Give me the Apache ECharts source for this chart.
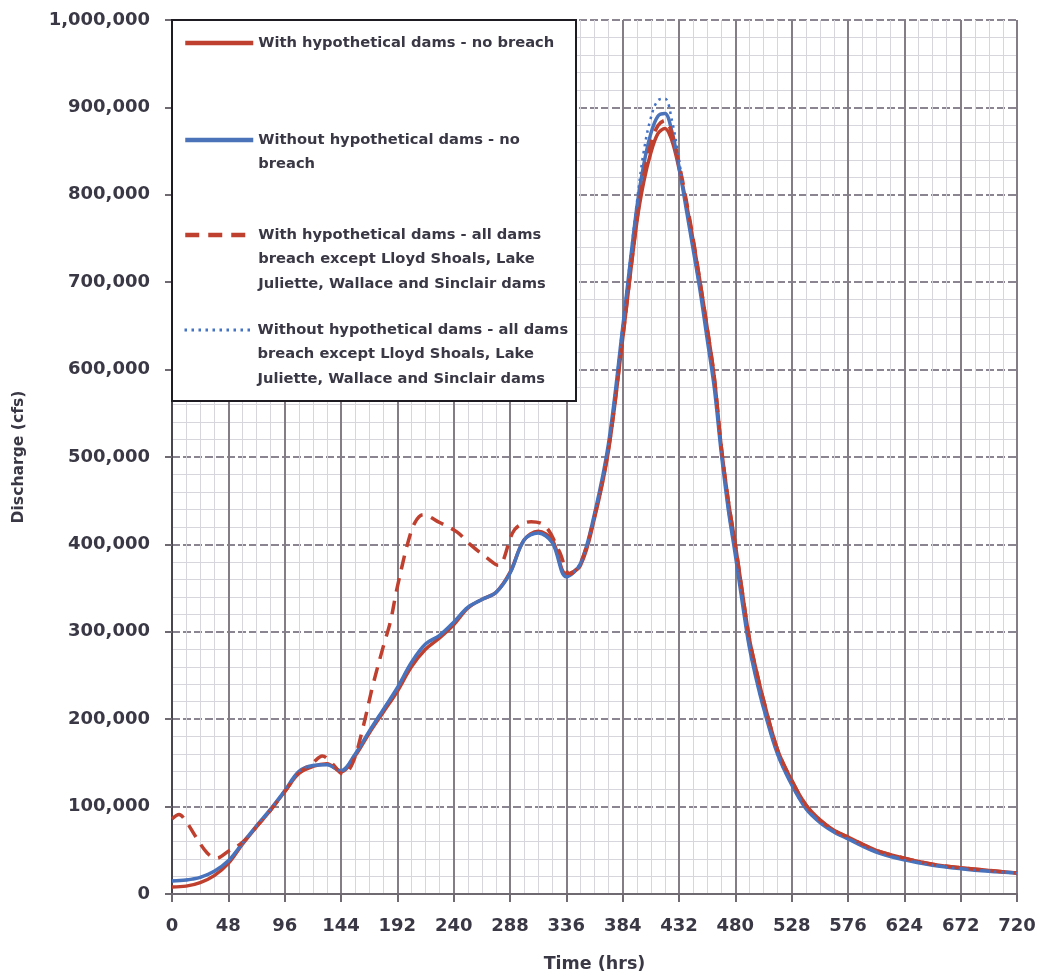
<!DOCTYPE html>
<html>
<head>
<meta charset="utf-8">
<script src="https://cdn.jsdelivr.net/npm/echarts@6/dist/echarts.min.js"></script>
<style>
  html, body { margin: 0; padding: 0; background: #ffffff; }
  #chart { width: 1040px; height: 978px; }
</style>
</head>
<body>
<div id="chart"></div>
<script>
// ---------------- DATA ----------------
const seriesNames = [
  'With hypothetical dams - no breach',
  'Without hypothetical dams - no breach',
  'With hypothetical dams - all dams breach except Lloyd Shoals, Lake Juliette, Wallace and Sinclair dams',
  'Without hypothetical dams - all dams breach except Lloyd Shoals, Lake Juliette, Wallace and Sinclair dams'
];
const legendLines = [
  ['With hypothetical dams - no breach'],
  ['Without hypothetical dams - no', 'breach'],
  ['With hypothetical dams - all dams', 'breach except Lloyd Shoals, Lake', 'Juliette, Wallace and Sinclair dams'],
  ['Without hypothetical dams - all dams', 'breach except Lloyd Shoals, Lake', 'Juliette, Wallace and Sinclair dams']
];
const xTitle = 'Time (hrs)';
const yTitle = 'Discharge (cfs)';

// With hypothetical dams - no breach (hours, cfs)
const tWithNoBreach = [0,12,24,36,48,60,72,84,96,108,120,132,144,156,168,180,192,204,216,228,240,252,264,276,288,300,312,324,336,348,360,372,384,396,402,408,414,420,426,432,438,444,450,456,462,468,474,480,486,492,498,504,516,528,540,552,564,576,600,624,648,672,696,720];
const vWithNoBreach = [8000,9000,13000,21000,35000,57000,77000,96000,117000,138000,146000,149000,140000,158000,184000,208000,232000,260000,280000,293000,308000,327000,337000,345000,368000,405000,415000,405000,366000,376000,430000,508000,635000,768000,815000,848000,870000,876000,862000,830000,792000,748000,700000,648000,592000,512000,450000,400000,345000,292000,255000,222000,165000,130000,102000,85000,73000,65000,50000,41000,34000,30000,27000,24000];

// Without hypothetical dams - no breach
const tWithoutNoBreach = [0,12,24,36,48,60,72,84,96,108,120,132,144,156,168,180,192,204,216,228,240,252,264,276,288,300,312,324,336,348,360,372,384,396,402,408,414,420,426,432,438,444,450,456,462,468,474,480,486,492,498,504,516,528,540,552,564,576,600,624,648,672,696,720];
const vWithoutNoBreach = [15000,16000,19000,26000,38000,58000,78000,97000,118000,140000,147000,148000,141000,160000,186000,211000,236000,265000,286000,296000,311000,328000,337000,345000,367000,405000,413000,402000,363000,378000,435000,516000,648000,785000,835000,870000,890000,893000,872000,832000,785000,738000,690000,635000,580000,505000,440000,388000,333000,282000,245000,213000,160000,125000,98000,82000,71000,63000,48000,39000,33000,29000,26000,24000];

// With hypothetical dams - all dams breach except ...
const tWithBreach = [0,6,12,20,30,38,48,60,72,84,96,108,120,128,136,146,154,163,171,180,186,191,196,201,207,214,228,243,254,268,278,292,306,318,330,339,348,360,372,384,396,402,408,414,420,426,432,438,444,450,456,462,468,474,480,486,492,498,504,516,528,540,552,564,576,600,624,648,672,696,720];
const vWithBreach = [86000,91000,83000,66000,47000,41000,49000,59000,77000,96000,117000,138000,150000,158000,150000,137000,150000,192000,238000,283000,311000,345000,375000,402000,425000,434000,425000,414000,400000,385000,376000,417000,426000,421000,392000,366000,378000,432000,510000,636000,770000,822000,858000,879000,885000,870000,836000,795000,750000,700000,648000,592000,512000,450000,400000,345000,292000,255000,222000,165000,130000,102000,85000,73000,65000,50000,41000,34000,30000,27000,24000];

// Without hypothetical dams - all dams breach except ...
const tWithoutBreach = [0,12,24,36,48,60,72,84,96,108,120,132,144,156,168,180,192,204,216,228,240,252,264,276,288,300,312,324,336,348,360,372,384,396,402,408,414,420,426,432,438,444,450,456,462,468,474,480,486,492,498,504,516,528,540,552,564,576,600,624,648,672,696,720];
const vWithoutBreach = [15000,16000,19000,26000,38000,58000,78000,97000,118000,140000,147000,148000,141000,160000,186000,211000,236000,265000,286000,296000,311000,328000,337000,345000,367000,405000,413000,402000,363000,378000,435000,516000,650000,790000,850000,888000,908000,910000,885000,840000,787000,738000,690000,635000,580000,505000,440000,388000,333000,282000,245000,213000,160000,125000,98000,82000,71000,63000,48000,39000,33000,29000,26000,24000];

const xTicks = [0,48,96,144,192,240,288,336,384,432,480,528,576,624,672,720];

// ---------------- CHART ----------------
const FONT = 'DejaVu Sans';
const TXT = '#3b3845';
const RED = '#C0402F';
const BLUE = '#4A73B9';
const BLUE_DOT = '#4472C4';
const zip = (t, v) => t.map((x, i) => [x, v[i]]);

const LH = 24.5;
const legendCenters = [43, 140, 235, 330];
const legendLineWidths = [4.5, 4.5, 4.5, 3];

const chart = echarts.init(document.getElementById('chart'), null, { renderer: 'canvas' });

const option = {
  backgroundColor: '#ffffff',
  animation: false,
  grid: { left: 172, right: 23, top: 20, bottom: 83, containLabel: false },
  xAxis: {
    type: 'value', min: 0, max: 720, interval: 48,
    name: xTitle, nameLocation: 'middle', nameGap: 61,
    nameTextStyle: { fontFamily: FONT, fontWeight: 'bold', fontSize: 17.5, color: TXT },
    axisLine: { show: true, lineStyle: { color: '#6f6a72', width: 2 } },
    axisTick: { show: true, length: 8, lineStyle: { color: '#6f6a72', width: 2 } },
    axisLabel: { fontFamily: FONT, fontWeight: 'bold', fontSize: 18, color: TXT, margin: 23,
      formatter: v => (xTicks.indexOf(v) >= 0 ? String(v) : '') },
    splitLine: { show: true, lineStyle: { color: '#837e86', width: 2, type: 'solid' } },
    minorTick: { show: false, splitNumber: 4 },
    minorSplitLine: { show: true, lineStyle: { color: '#d6d6dc', width: 1 } }
  },
  yAxis: {
    type: 'value', min: 0, max: 1000000, interval: 100000,
    name: yTitle, nameLocation: 'middle', nameGap: 145, nameRotate: 90,
    nameTextStyle: { fontFamily: FONT, fontWeight: 'bold', fontSize: 15.6, color: TXT },
    axisLine: { show: true, lineStyle: { color: '#4a4650', width: 2 } },
    axisTick: { show: true, length: 7, lineStyle: { color: '#6f6a72', width: 2 } },
    axisLabel: { fontFamily: FONT, fontWeight: 'bold', fontSize: 18, color: TXT, margin: 22,
      formatter: v => v.toLocaleString('en-US') },
    splitLine: { show: true, lineStyle: { color: '#8a8590', width: 2, type: [8, 3] } },
    minorTick: { show: false, splitNumber: 5 },
    minorSplitLine: { show: true, lineStyle: { color: '#d6d6dc', width: 1 } }
  },
  legend: legendLines.map((lines, i) => ({
    data: [seriesNames[i]],
    orient: 'vertical',
    left: 183,
    top: legendCenters[i] - (2 * lines.length - 1) * LH / 2,
    padding: 0,
    itemWidth: 68,
    itemHeight: 14,
    itemGap: 0,
    selectedMode: false,
    z: 5,
    itemStyle: { opacity: 0, borderWidth: 0 },
    lineStyle: { width: legendLineWidths[i] },
    // leading blank lines keep the icon level with the first text line
    formatter: () => '\n'.repeat(lines.length - 1) + lines.join('\n'),
    textStyle: { fontFamily: FONT, fontWeight: 'bold', fontSize: 14.7, color: TXT, lineHeight: LH }
  })),
  graphic: [{
    type: 'rect', z: 3,
    shape: { x: 172, y: 20, width: 404, height: 381 },
    style: { fill: '#ffffff', stroke: '#1e1c22', lineWidth: 2 }
  }],
  series: [
    { name: seriesNames[0], type: 'line', data: zip(tWithNoBreach, vWithNoBreach),
      smooth: 0.35, symbol: 'none', showSymbol: false, z: 2,
      lineStyle: { color: RED, width: 3.5 }, itemStyle: { color: RED } },
    { name: seriesNames[1], type: 'line', data: zip(tWithoutNoBreach, vWithoutNoBreach),
      smooth: 0.35, symbol: 'none', showSymbol: false, z: 2,
      lineStyle: { color: BLUE, width: 3.5 }, itemStyle: { color: BLUE } },
    { name: seriesNames[2], type: 'line', data: zip(tWithBreach, vWithBreach),
      smooth: 0.35, symbol: 'none', showSymbol: false, z: 2,
      lineStyle: { color: RED, width: 3.5, type: [14, 9] }, itemStyle: { color: RED } },
    { name: seriesNames[3], type: 'line', data: zip(tWithoutBreach, vWithoutBreach),
      smooth: 0.35, symbol: 'none', showSymbol: false, z: 2,
      lineStyle: { color: BLUE_DOT, width: 2.5, type: [2.5, 4.5] }, itemStyle: { color: BLUE_DOT } }
  ]
};
chart.setOption(option);
</script>
</body>
</html>
